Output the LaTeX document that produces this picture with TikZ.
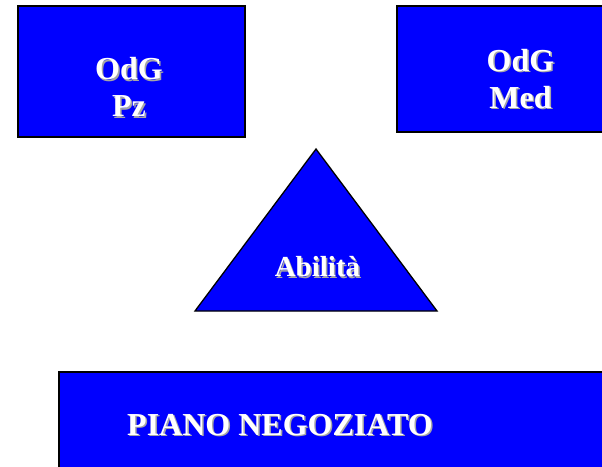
\documentclass[tikz,border=0pt]{standalone}
\usepackage{fontspec}
\setmainfont{Liberation Serif}
\begin{document}
\begin{tikzpicture}[x=1pt,y=-1pt,
  panel/.style={draw=black,line width=1.3pt,fill=blueA},
  lbl/.style={text=white,font=\fontsize{32}{37}\selectfont\bfseries,align=center,inner sep=0pt},
  shadowlbl/.style={text=gray!70,font=\fontsize{32}{37}\selectfont\bfseries,align=center,inner sep=0pt}]
\definecolor{blueA}{RGB}{0,0,255}
\clip (0,0) rectangle (602,466);
\fill[white] (0,0) rectangle (602,466);
% boxes
\draw[panel] (18,6) rectangle (245,137);
\draw[panel] (397,6) rectangle (612,132);
\draw[panel] (59,372) rectangle (612,476);
\draw[panel,line join=miter] (316,149) -- (437,311) -- (195,311) -- cycle;
% labels with shadow
\node[shadowlbl] at (130.5,88.5) {OdG\\Pz};
\node[lbl] (pz) at (129,87) {OdG\\Pz};
\node[shadowlbl] at (522,80.5) {OdG\\Med};
\node[lbl] (med) at (520.5,79) {OdG\\Med};
\node[shadowlbl,font=\fontsize{29}{35}\selectfont\bfseries] at (319,268.5) {Abilità};
\node[lbl,font=\fontsize{29}{35}\selectfont\bfseries] (abil) at (317.5,267) {Abilità};
\node[shadowlbl] at (281.5,426.5) {PIANO NEGOZIATO};
\node[lbl] (piano) at (280,425) {PIANO NEGOZIATO};
\end{tikzpicture}
\end{document}
